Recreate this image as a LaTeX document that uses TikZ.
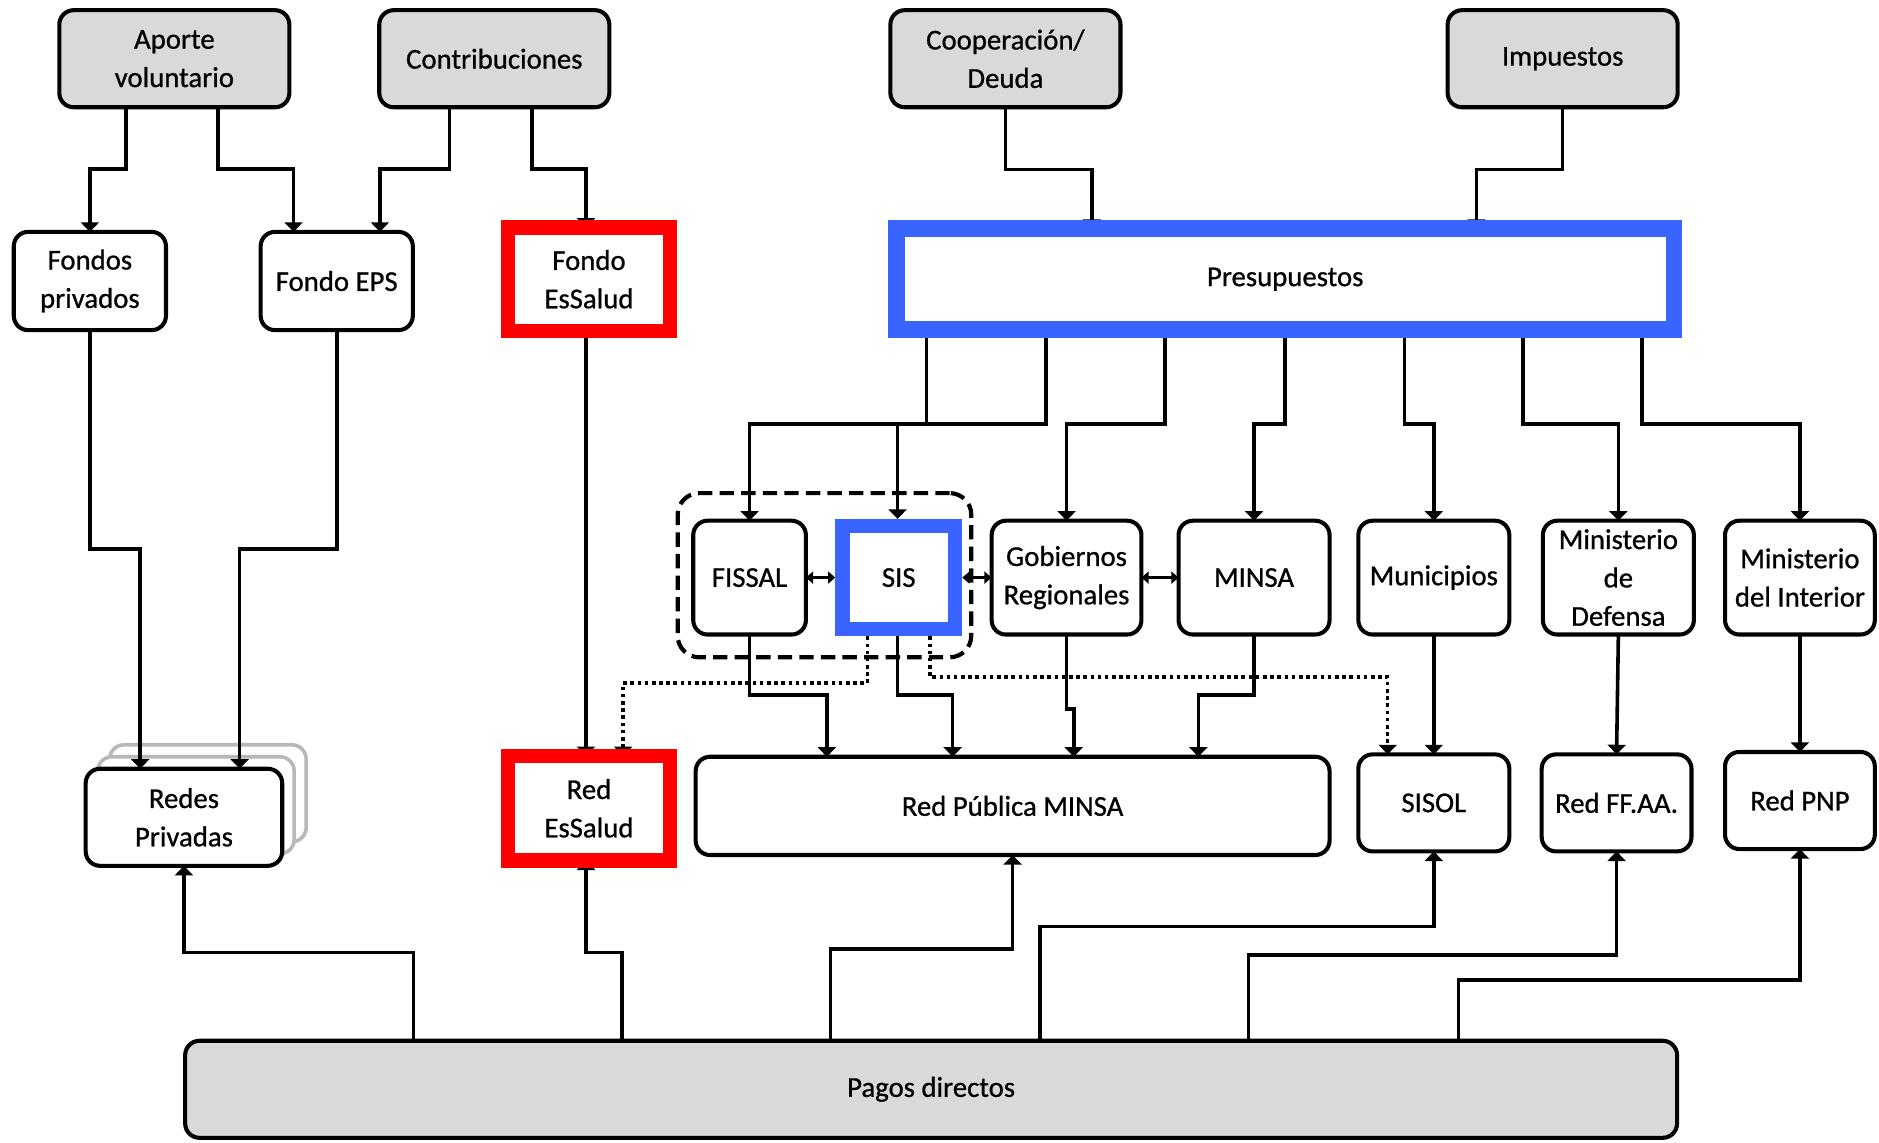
\documentclass[tikz,border=0pt]{standalone}
\usepackage{fontspec}
\setmainfont{Carlito}[FakeBold=0.8]
\usetikzlibrary{arrows.meta}
\definecolor{boxgray}{HTML}{D9D9D9}
\definecolor{fblue}{RGB}{58,100,255}
\definecolor{fred}{RGB}{255,0,0}
\definecolor{shgray}{HTML}{B8B8B8}
\begin{document}
\begin{tikzpicture}[x=1pt,y=-1pt,
  every node/.style={font=\fontsize{24}{32}\selectfont, align=center, inner sep=0pt, outer sep=0pt},
  bx/.style={draw, line width=3.4pt, rounded corners=12pt, fill=white},
  gbx/.style={bx, fill=boxgray},
  shbx/.style={draw=shgray, line width=3pt, rounded corners=12pt, fill=white},
  redf/.style={draw=fred, line width=12pt},
  bluef/.style={draw=fblue, line width=14pt},
  grpbox/.style={draw, line width=3.5pt, dash pattern=on 12pt off 6pt, rounded corners=18pt},
  ln/.style={line width=3pt},
  arr/.style={ln, -{Triangle[width=15pt,length=8pt]}},
  darr/.style={ln, {Triangle[width=10pt,length=6pt]}-{Triangle[width=10pt,length=6pt]}},
  dotl/.style={line width=3pt, dash pattern=on 3pt off 3pt, -{Triangle[width=15pt,length=8pt]}},
]
\fill[white] (0,0) rectangle (1568,953);
\useasboundingbox (0,0) rectangle (1568,953);

% top row
\node[gbx, minimum width=192pt, minimum height=81pt] (ap) at (145.5,49) {Aporte\\voluntario};
\node[gbx, minimum width=192pt, minimum height=81pt] (co) at (412.5,49) {Contribuciones};
\node[gbx, minimum width=192pt, minimum height=81pt] (cd) at (839,49) {Cooperación/\\Deuda};
\node[gbx, minimum width=192pt, minimum height=81pt] (im) at (1304,49) {Impuestos};

% second row
\node[bx, minimum width=127pt, minimum height=82pt] (fp) at (75,234.5) {Fondos\\privados};
\node[bx, minimum width=127pt, minimum height=82pt] (fe) at (281,234.5) {Fondo EPS};
\node[redf, fill=white, minimum width=135pt, minimum height=86pt] (fes) at (491.5,233) {Fondo\\EsSalud};
\node[bluef, fill=white, minimum width=649pt, minimum height=84pt] (pr) at (1072.5,233) {Presupuestos};

% third row
\node[grpbox, minimum width=245pt, minimum height=137pt] (grp) at (688,480) {};
\node[bx, minimum width=94pt, minimum height=95pt] (fi) at (625.5,482) {FISSAL};
\node[draw=fblue, line width=12pt, fill=white, minimum width=94pt, minimum height=86pt] (sis) at (750,482) {SIS};
\node[bx, minimum width=125pt, minimum height=95pt] (gr) at (890,482) {Gobiernos\\Regionales};
\node[bx, minimum width=126pt, minimum height=95pt] (mi) at (1046.5,482) {MINSA};
\node[bx, minimum width=126pt, minimum height=95pt] (mu) at (1196.5,482) {Municipios};
\node[bx, minimum width=126pt, minimum height=95pt] (md) at (1350.5,482) {Ministerio\\de\\Defensa};
\node[bx, minimum width=125pt, minimum height=95pt] (mint) at (1502,482) {Ministerio\\del Interior};

% fourth row
\node[shbx, minimum width=164pt, minimum height=81pt] (rps2) at (173.5,662) {};
\node[shbx, minimum width=164pt, minimum height=81pt] (rps1) at (163.5,672) {};
\node[bx, minimum width=164pt, minimum height=81pt] (rp) at (153.5,682) {Redes\\Privadas};
\node[redf, fill=white, minimum width=135pt, minimum height=87pt] (res) at (491.5,674.5) {Red\\EsSalud};
\node[bx, minimum width=529pt, minimum height=82pt] (rpm) at (845,672.5) {Red Pública MINSA};
\node[bx, minimum width=126pt, minimum height=81pt] (so) at (1196.5,670) {SISOL};
\node[bx, minimum width=125pt, minimum height=81pt] (ff) at (1349,670) {Red FF.AA.};
\node[bx, minimum width=125pt, minimum height=81pt] (pnp) at (1502,668) {Red PNP};

% bottom
\node[gbx, minimum width=1245pt, minimum height=81pt] (pd) at (777,909) {Pagos directos};

% connectors top
\draw[arr] ([xshift=-40.5pt]ap.south) -- ++(0,51.5) -| (fp.north);
\draw[arr] ([xshift=36.5pt]ap.south) -- ++(0,51.5) -| ([xshift=-36pt]fe.north);
\draw[arr] ([xshift=-37.5pt]co.south) -- ++(0,51.5) -| ([xshift=36pt]fe.north);
\draw[arr] ([xshift=31.5pt]co.south) -- ++(0,51.5) -| ([xshift=-2.5pt]fes.north);
\draw[arr] (cd.south) -- ++(0,52) -| ([xshift=-161.5pt]pr.north);
\draw[arr] (im.south) -- ++(0,52) -| ([xshift=159.5pt]pr.north);

% second row down
\draw[arr] (fp.south) -- ++(0,182.5) -| ([xshift=-36.5pt]rp.north);
\draw[arr] (fe.south) -- ++(0,182.5) -| ([xshift=46.5pt]rp.north);
\draw[arr] ([xshift=-2.5pt]fes.south) -- ([xshift=-2.5pt]res.north);

% presupuestos fan-out
\draw[arr] ([xshift=-299.5pt]pr.south) -- ++(0,79) -| (fi.north);
\draw[arr] ([xshift=-199.5pt]pr.south) -- ++(0,79) -| ([xshift=-1pt,yshift=6pt]sis.north);
\draw[arr] ([xshift=-100.5pt]pr.south) -- ++(0,79) -| (gr.north);
\draw[arr] (pr.south) -- ++(0,79) -| (mi.north);
\draw[arr] ([xshift=99.5pt]pr.south) -- ++(0,79) -| (mu.north);
\draw[arr] ([xshift=198.5pt]pr.south) -- ++(0,79) -| (md.north);
\draw[arr] ([xshift=297.5pt]pr.south) -- ++(0,79) -| (mint.north);

% double arrows
\draw[darr] (fi.east) -- ([xshift=-6pt]sis.west);
\draw[darr] ([xshift=6pt]sis.east) -- (gr.west);
\draw[darr] (gr.east) -- (mi.west);

% third row down
\draw[arr] (fi.south) -- ++(0,50.5) -| ([xshift=-155pt]rpm.north);
\draw[arr] ([xshift=-1pt]sis.south) -- ++(0,55) -| ([xshift=-50pt]rpm.north);
\draw[arr] (gr.south) -- ++(0,62) -| ([xshift=51pt]rpm.north);
\draw[arr] (mi.south) -- ++(0,50.5) -| ([xshift=155pt]rpm.north);
\draw[arr] (mu.south) -- (so.north);
\draw[arr] (md.south) -- (ff.north);
\draw[arr] (mint.south) -- (pnp.north);

% dotted
\draw[dotl] ([xshift=-26pt]sis.south) -- ++(0,45) -| ([xshift=28.5pt]res.north);
\draw[dotl] ([xshift=26pt]sis.south) -- ++(0,40) -| ([xshift=-38.5pt]so.north);

% pagos directos
\draw[arr] ([xshift=-432pt]pd.north) -- ++(0,-73.5) -| (rp.south);
\draw[arr] ([xshift=-258pt]pd.north) -- ++(0,-73.5) -| ([xshift=-2.5pt]res.south);
\draw[arr] ([xshift=-84pt]pd.north) -- ++(0,-76.5) -| (rpm.south);
\draw[arr] ([xshift=91pt]pd.north) -- ++(0,-95.5) -| (so.south);
\draw[arr] ([xshift=265pt]pd.north) -- ++(0,-71.5) -| (ff.south);
\draw[arr] ([xshift=440pt]pd.north) -- ++(0,-50.5) -| (pnp.south);

% frames on top
\draw[redf] (fes.south west) rectangle (fes.north east);
\draw[redf] (res.south west) rectangle (res.north east);
\draw[bluef] (pr.south west) rectangle (pr.north east);
\draw[draw=fblue, line width=12pt] (sis.south west) rectangle (sis.north east);
\end{tikzpicture}
\end{document}
